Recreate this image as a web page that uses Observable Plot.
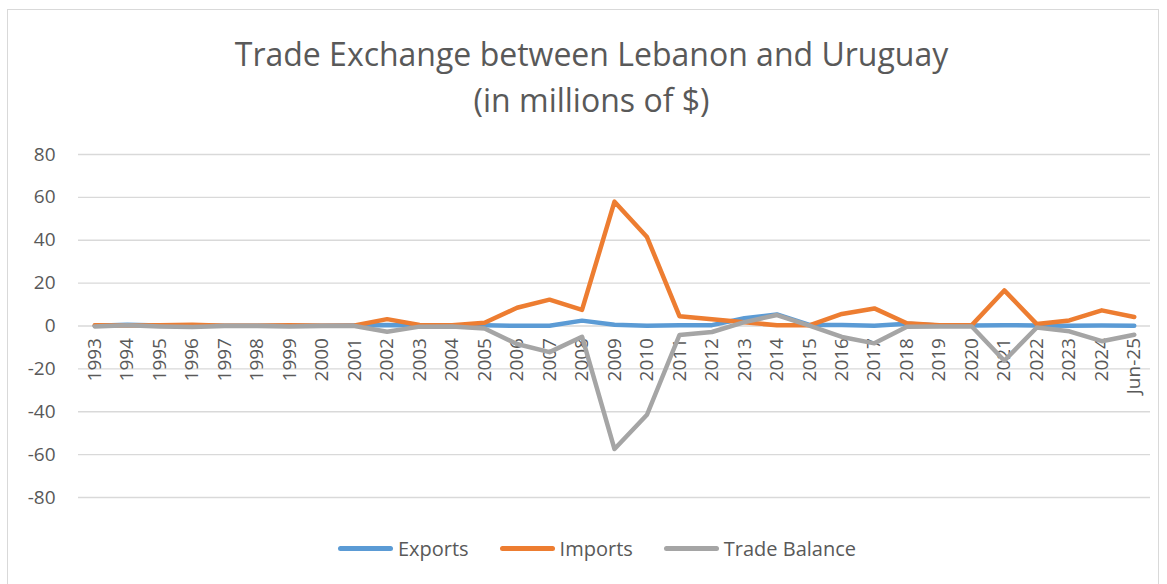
<!DOCTYPE html>
<html>
<head>
<meta charset="utf-8">
<script src="https://cdn.jsdelivr.net/npm/d3@7"></script>
<script src="https://cdn.jsdelivr.net/npm/@observablehq/plot@0.6"></script>
<style>
  body { margin: 0; background: #fff; font-family: "Open Sans", sans-serif; }
  #wrap { position: relative; width: 1167px; height: 584px; overflow: hidden; }
  #frame { position: absolute; left: 7px; top: 9px; width: 1152px; height: 600px; border: 1px solid #d9d9d9; box-sizing: border-box; }
  #title { position: absolute; left: 0; width: 1183px; top: 31px; text-align: center; color: #595959; font-size: 32px; line-height: 46px; }
  #chart { position: absolute; left: 0; top: 0; }
  #legend { position: absolute; left: 0; width: 1194px; top: 535px; display: flex; justify-content: center; align-items: center; color: #595959; font-size: 20px; }
  .item { display: flex; align-items: center; margin: 0 15.5px; }
  .sw { width: 55px; height: 5px; border-radius: 3px; margin-right: 5px; }
</style>
</head>
<body>
<div id="wrap">
  <div id="frame"></div>
  <div id="chart"></div>
  <div id="title">Trade Exchange between Lebanon and Uruguay<br>(in millions of $)</div>
  <div id="legend"></div>
</div>
<script>
const categories = ["1993","1994","1995","1996","1997","1998","1999","2000","2001","2002","2003","2004","2005","2006","2007","2008","2009","2010","2011","2012","2013","2014","2015","2016","2017","2018","2019","2020","2021","2022","2023","2024","Jun-25"];
const exportsVals = [0.1,0.6,0.2,0.1,0.1,0.1,0.1,0.1,0.2,0.5,0.2,0.2,0.3,0.1,0.1,2.5,0.6,0.1,0.4,0.4,3.6,5.4,0.5,0.5,0.1,1.0,0.2,0.2,0.4,0.2,0.1,0.2,0.1];
const importsVals = [0.3,0.2,0.4,0.6,0.1,0.1,0.3,0.1,0.2,3.2,0.5,0.4,1.5,8.5,12.3,7.5,58.0,41.5,4.6,3.2,1.8,0.3,0.3,5.6,8.2,1.3,0.4,0.4,16.6,0.9,2.6,7.3,4.2];
const balanceVals = [-0.2,0.4,-0.2,-0.5,0,0,-0.2,0,0,-2.7,-0.3,-0.2,-1.2,-8.4,-12.2,-5.0,-57.4,-41.4,-4.2,-2.8,1.8,5.1,0.2,-5.1,-8.1,-0.3,-0.2,-0.2,-16.2,-0.7,-2.5,-7.1,-4.1];
const yTicks = [-80,-60,-40,-20,0,20,40,60,80];
const seriesNames = ["Exports","Imports","Trade Balance"];
const seriesColors = ["#5B9BD5","#ED7D31","#A5A5A5"];

const seriesVals = [exportsVals, importsVals, balanceVals];
const rows = [];
seriesNames.forEach((s, i) => categories.forEach((c, j) => rows.push({series: s, cat: c, value: seriesVals[i][j]})));

const W = 1167, H = 520;
const plot = Plot.plot({
  width: W, height: H,
  marginLeft: 78, marginRight: 17, marginTop: 154, marginBottom: H - 497,
  style: {fontFamily: "'Open Sans', sans-serif", background: "transparent"},
  x: {type: "point", domain: categories, padding: 0.5, round: false, axis: null},
  y: {domain: [-80, 80], ticks: yTicks, label: null},
  color: {domain: seriesNames, range: seriesColors},
  marks: [
    Plot.ruleY(yTicks, {stroke: "#d9d9d9", strokeWidth: 1.3}),
    Plot.axisY({ticks: yTicks, tickFormat: d => String(d), tickSize: 0, tickPadding: 23, fontSize: 19, color: "#595959", label: null}),
    Plot.text(categories, {x: d => d, y: () => 0, rotate: -90, textAnchor: "end", dy: 12, fontSize: 19, fill: "#595959"}),
    Plot.line(rows, {x: "cat", y: "value", z: "series", stroke: "series", strokeWidth: 4.5, strokeLinecap: "round", strokeLinejoin: "round"})
  ]
});
document.getElementById("chart").appendChild(plot);

const legend = document.getElementById("legend");
seriesNames.forEach((s, i) => {
  const it = document.createElement("div");
  it.className = "item";
  const sw = document.createElement("div");
  sw.className = "sw";
  sw.style.background = seriesColors[i];
  const t = document.createElement("span");
  t.textContent = s;
  it.appendChild(sw); it.appendChild(t);
  legend.appendChild(it);
});
</script>
</body>
</html>
